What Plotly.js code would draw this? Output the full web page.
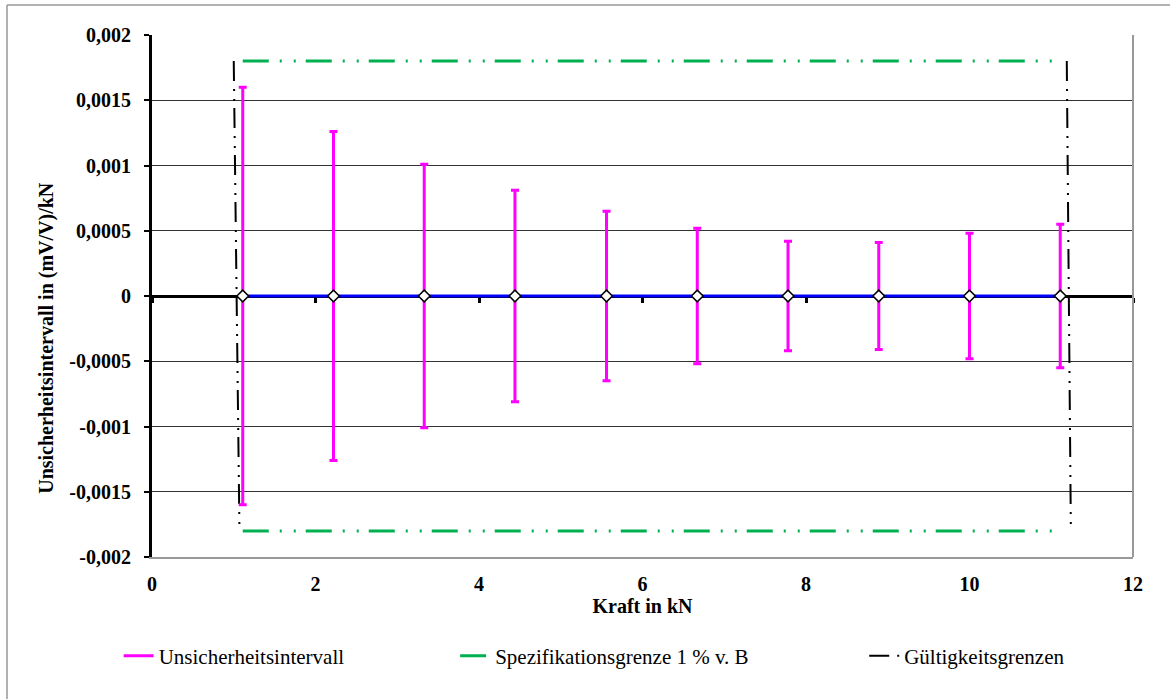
<!DOCTYPE html>
<html>
<head>
<meta charset="utf-8">
<script src="https://cdn.plot.ly/plotly-3.0.1.min.js"></script>
<style>html,body{margin:0;padding:0;background:#fff;}#chart{width:1170px;height:699px;}</style>
</head>
<body>
<div id="chart"></div>
<script>
// Data
var forceKN = [1.11, 2.22, 3.33, 4.44, 5.56, 6.67, 7.78, 8.89, 10.0, 11.11];
var centerVals = [0, 0, 0, 0, 0, 0, 0, 0, 0, 0];
var uncertainty = [0.0016, 0.00126, 0.00101, 0.00081, 0.00065, 0.00052, 0.00042, 0.00041, 0.00048, 0.00055];
var specX = [1.11, 11.11];
var specUpper = [0.0018, 0.0018];
var specLower = [-0.0018, -0.0018];
var validLeftX = [1.0, 1.07];
var validRightX = [11.19, 11.24];
var validY = [0.0018, -0.0018];
var yTickVals = [-0.002, -0.0015, -0.001, -0.0005, 0, 0.0005, 0.001, 0.0015, 0.002];
var yTickText = ['-0,002', '-0,0015', '-0,001', '-0,0005', '0', '0,0005', '0,001', '0,0015', '0,002'];
var xTickVals = [0, 2, 4, 6, 8, 10, 12];
var xTickText = ['0', '2', '4', '6', '8', '10', '12'];
var yTitle = 'Unsicherheitsintervall in (mV/V)/kN';
var xTitle = 'Kraft in kN';

var FONT = '"Liberation Serif", "Times New Roman", Times, serif';
var greenDash = '26px,11px,2px,12px,2px,10px';
var blackDash = '20px,8px,2px,8px,2px,7px';

var traces = [
  {
    x: specX, y: specUpper, mode: 'lines', name: 'Spezifikationsgrenze 1 % v. B',
    line: {color: '#00B050', width: 3, dash: greenDash},
    legend: 'legend2', legendgroup: 'spec', hoverinfo: 'skip'
  },
  {
    x: specX, y: specLower, mode: 'lines', name: 'Spezifikationsgrenze 1 % v. B',
    line: {color: '#00B050', width: 3, dash: greenDash},
    legendgroup: 'spec', showlegend: false, hoverinfo: 'skip'
  },
  {
    x: validLeftX, y: validY, mode: 'lines', name: 'Gültigkeitsgrenzen',
    line: {color: '#000000', width: 2, dash: blackDash},
    legend: 'legend3', legendgroup: 'valid', hoverinfo: 'skip'
  },
  {
    x: validRightX, y: validY, mode: 'lines', name: 'Gültigkeitsgrenzen',
    line: {color: '#000000', width: 2, dash: blackDash},
    legendgroup: 'valid', showlegend: false, hoverinfo: 'skip'
  },
  {
    x: forceKN, y: centerVals, mode: 'lines+markers', name: 'Messwerte',
    line: {color: '#0000FF', width: 3},
    marker: {symbol: 'diamond', size: 9, color: '#FFFFFF', line: {color: '#000000', width: 1.5}},
    error_y: {type: 'data', array: uncertainty, symmetric: true, color: '#FF00FF', thickness: 3, width: 4},
    showlegend: false
  },
  {
    x: [null], y: [null], mode: 'lines', name: 'Unsicherheitsintervall',
    line: {color: '#FF00FF', width: 3},
    xaxis: 'x2', legend: 'legend', hoverinfo: 'skip'
  }
];

var legendBase = {
  orientation: 'h', yanchor: 'middle', y: -0.19, xanchor: 'left',
  font: {family: FONT, size: 21, color: '#000'}, bgcolor: 'rgba(0,0,0,0)', borderwidth: 0
};

var layout = {
  width: 1170, height: 699,
  margin: {l: 152, r: 37, t: 35, b: 142},
  paper_bgcolor: '#FFFFFF', plot_bgcolor: '#FFFFFF',
  font: {family: FONT, color: '#000'},
  showlegend: true,
  legend: Object.assign({}, legendBase, {x: -0.034}),
  legend2: Object.assign({}, legendBase, {x: 0.309}),
  legend3: Object.assign({}, legendBase, {x: 0.726}),
  xaxis: {
    range: [0, 12], tickvals: xTickVals, ticktext: xTickText,
    showgrid: false, zeroline: false, ticks: '', ticklabelstandoff: 8,
    showline: true, linecolor: '#999999', linewidth: 2,
    tickfont: {family: FONT, size: 20, weight: 'bold', color: '#000'},
    title: {text: xTitle, font: {family: FONT, size: 20, weight: 'bold', color: '#000'}, standoff: 2}
  },
  xaxis2: {
    range: [0, 12], overlaying: 'x', anchor: 'free', position: 0.5,
    tickvals: xTickVals, showticklabels: false, ticks: 'outside', ticklen: 5, tickwidth: 3, tickcolor: '#000',
    showline: true, linecolor: '#000', linewidth: 3, showgrid: false, zeroline: false,
    layer: 'below traces'
  },
  yaxis: {
    range: [-0.002, 0.002], tickvals: yTickVals, ticktext: yTickText,
    showgrid: true, gridcolor: '#333333', gridwidth: 1, zeroline: false,
    showline: true, linecolor: '#000', linewidth: 3,
    ticks: 'outside', ticklen: 5, tickwidth: 2, tickcolor: '#000', ticklabelstandoff: 9,
    tickfont: {family: FONT, size: 20, weight: 'bold', color: '#000'}
  },
  annotations: [
    {text: yTitle, xref: 'paper', yref: 'paper', x: -0.107, y: 0.42, textangle: -90,
     showarrow: false, xanchor: 'center', yanchor: 'middle',
     font: {family: FONT, size: 20, weight: 'bold', color: '#000'}}
  ],
  shapes: [
    {type: 'line', xref: 'paper', yref: 'paper', x0: 1, x1: 1, y0: 0, y1: 1, line: {color: '#999999', width: 2}},
    {type: 'line', xref: 'paper', yref: 'paper', x0: -0.1478, x1: 1.04, y0: 1.0575, y1: 1.0575, line: {color: '#999999', width: 1.5}},
    {type: 'line', xref: 'paper', yref: 'paper', x0: -0.1478, x1: -0.1478, y0: 1.0575, y1: -0.28, line: {color: '#999999', width: 1.5}}
  ]
};

Plotly.newPlot('chart', traces, layout, {displayModeBar: false, staticPlot: true});
</script>
</body>
</html>
